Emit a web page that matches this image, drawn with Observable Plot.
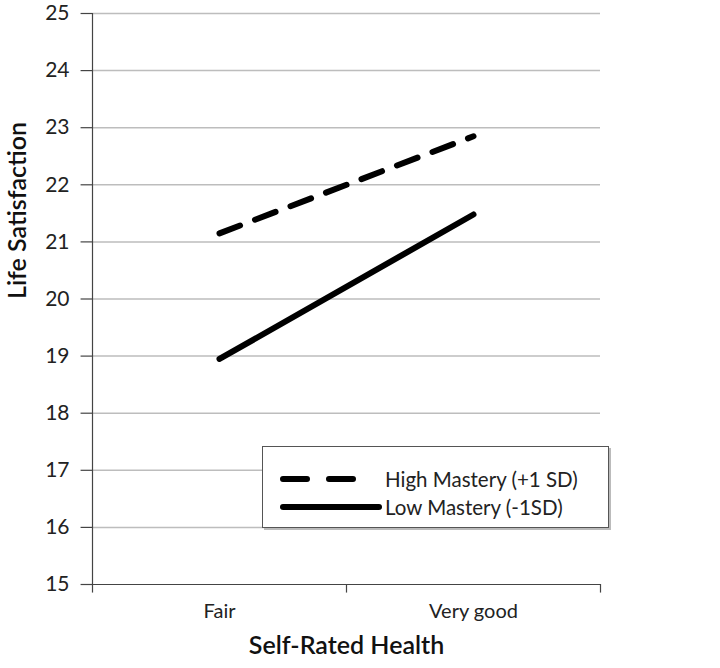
<!DOCTYPE html>
<html><head><meta charset="utf-8">
<script src="https://cdn.jsdelivr.net/npm/d3@7"></script>
<script src="https://cdn.jsdelivr.net/npm/@observablehq/plot@0.6"></script>
<style>
body{margin:0;background:#fff;font-family:Lato,"Open Sans",sans-serif;}
#wrap{position:relative;width:720px;height:668px;}
#legend{position:absolute;left:262px;top:446px;width:347px;height:82px;border:1.5px solid #555;box-shadow:2px 2px 0 #bbb;background:#fff;box-sizing:border-box;}
#legend .row{position:absolute;left:16px;display:flex;align-items:center;font-size:20.5px;color:#222;}
</style></head>
<body><div id="wrap"></div>
<script>
const categories = ["Fair", "Very good"];
const highMastery = [21.15, 22.85];
const lowMastery = [18.95, 21.48];
const seriesNames = ["High Mastery (+1 SD)", "Low Mastery (-1SD)"];
const yTicks = [15,16,17,18,19,20,21,22,23,24,25];

const pos = categories.map((c,i)=>i+0.5);
const data = [];
categories.forEach((c,i)=>{
  data.push({series:seriesNames[0], x:pos[i], y:highMastery[i]});
  data.push({series:seriesNames[1], x:pos[i], y:lowMastery[i]});
});
const bounds = d3.range(categories.length+1);

const chart = Plot.plot({
  width:720, height:668,
  marginLeft:92, marginRight:120, marginTop:13, marginBottom:84,
  style:{fontFamily:"Lato, 'Open Sans', sans-serif", fontSize:"17px", color:"#222", background:"#fff"},
  x:{type:"linear", domain:[0,categories.length], axis:null},
  y:{type:"linear", domain:[15,25], axis:null},
  marks:[
    Plot.ruleY(yTicks.slice(1), {y:d=>d, stroke:"#bdbdbd", strokeWidth:1.5}),
    Plot.ruleY(yTicks, {y:d=>d, x1:-0.045, x2:0, stroke:"#444", strokeWidth:1.2}),
    Plot.text(yTicks, {x:0, y:d=>d, text:d=>String(d), textAnchor:"end", dx:-23, fontSize:21, fill:"#222"}),
    Plot.ruleX([0], {x:d=>d, stroke:"#444", strokeWidth:1.2}),
    Plot.ruleY([15], {y:d=>d, stroke:"#444", strokeWidth:1.2}),
    Plot.ruleX(bounds, {x:d=>d, y1:15, y2:14.85, stroke:"#444", strokeWidth:1.2}),
    Plot.text(categories, {x:(d,i)=>pos[i], y:categories.map(()=>15), text:d=>d, dy:27, fontSize:20, fill:"#222"}),
    Plot.line(data.filter(d=>d.series===seriesNames[0]), {x:"x", y:"y", stroke:"#000", strokeWidth:6, strokeDasharray:"22,16", strokeLinecap:"round"}),
    Plot.line(data.filter(d=>d.series===seriesNames[1]), {x:"x", y:"y", stroke:"#000", strokeWidth:6, strokeLinecap:"round"}),
    Plot.text(["Self-Rated Health"], {frameAnchor:"bottom", dy:69, fontSize:25, fontWeight:600, fill:"#111"}),
    Plot.text(["Life Satisfaction"], {frameAnchor:"left", rotate:-90, dx:-75, fontSize:25, fontWeight:600, fill:"#111"})
  ]
});
document.getElementById("wrap").appendChild(chart);

const leg = document.createElement("div");
leg.id="legend";
leg.innerHTML = `
<div class="row" style="top:20px"><svg width="106" height="10"><line x1="4" y1="5" x2="80" y2="5" stroke="#000" stroke-width="6" stroke-dasharray="24,22" stroke-linecap="round"/></svg><span>${seriesNames[0]}</span></div>
<div class="row" style="top:48px"><svg width="106" height="10"><line x1="4" y1="5" x2="100" y2="5" stroke="#000" stroke-width="6" stroke-linecap="round"/></svg><span>${seriesNames[1]}</span></div>`;
document.getElementById("wrap").appendChild(leg);
</script></body></html>
